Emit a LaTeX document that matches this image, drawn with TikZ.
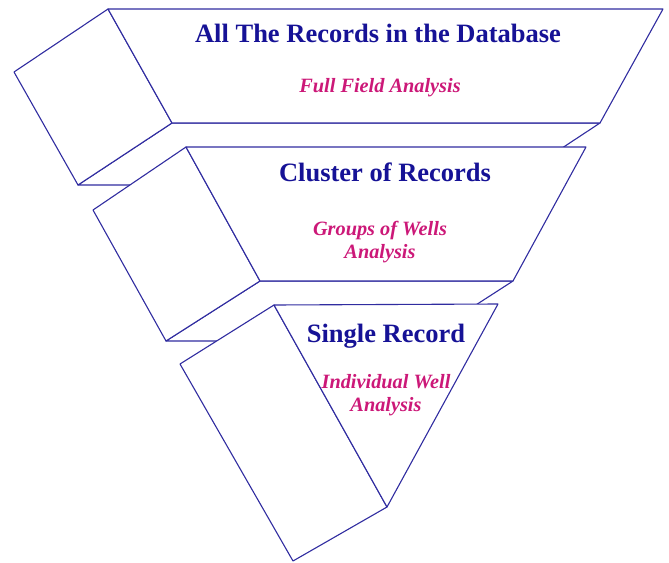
\documentclass[tikz,border=0pt]{standalone}
\usepackage{fontspec}
\setmainfont{Liberation Serif}
\usepackage{tikz}

\definecolor{lineblue}{RGB}{48,44,160}
\definecolor{titleblue}{RGB}{22,18,150}
\definecolor{subpink}{RGB}{204,24,120}

\begin{document}
\begin{tikzpicture}[x=1pt,y=-1pt]
        \tikzset{face/.style={draw=lineblue, fill=white, line width=1.1pt, line join=round},
                 title/.style={text=titleblue, anchor=base, inner sep=0pt, font=\fontsize{26.5}{30}\selectfont\bfseries},
                 sub/.style={text=subpink, anchor=base, inner sep=0pt, align=center, font=\fontsize{20.3}{23}\selectfont\bfseries\itshape}}
        \useasboundingbox (0,0) rectangle (669,562);

	%---NODES---
        % top slab
        \coordinate (a1) at (108,9);
        \coordinate (b1) at (663,9);
        \coordinate (c1) at (600,123);
        \coordinate (d1) at (172,123);
        \coordinate (e1) at (14,72);
        \coordinate (f1) at (78,185);
        \coordinate (k1) at (506,185);

        % middle slab
        \coordinate (a2) at (186,147);
        \coordinate (b2) at (586,147);
        \coordinate (c2) at (513,281);
        \coordinate (d2) at (260,281);
        \coordinate (e2) at (93,210);
        \coordinate (f2) at (166,341);
        \coordinate (k2) at (420,341);

        % bottom wedge
        \coordinate (a3) at (274,305);
        \coordinate (b3) at (498,304);
        \coordinate (c3) at (387,507);
        \coordinate (e3) at (180,364);
        \coordinate (f3) at (293,561);

	%---EDGES---
        \draw[face] (d1) -- (c1) -- (k1) -- (f1) -- cycle;
        \draw[face] (a1) -- (e1) -- (f1) -- (d1) -- cycle;
        \draw[face] (a1) -- (b1) -- (c1) -- (d1) -- cycle;

        \draw[face] (d2) -- (c2) -- (k2) -- (f2) -- cycle;
        \draw[face] (a2) -- (e2) -- (f2) -- (d2) -- cycle;
        \draw[face] (a2) -- (b2) -- (c2) -- (d2) -- cycle;

        \draw[face] (a3) -- (e3) -- (f3) -- (c3) -- cycle;
        \draw[face] (a3) -- (b3) -- (c3) -- cycle;

	%---LABELS---
        \node[title] (t1) at (378,42) {All The Records in the Database};
        \node[sub]   (s1) at (380,92) {Full Field Analysis};
        \node[title] (t2) at (385,181) {Cluster of Records};
        \node[sub]   (s2) at (380,258) {Groups of Wells\\Analysis};
        \node[title] (t3) at (386,342) {Single Record};
        \node[sub]   (s3) at (386,411) {Individual Well\\Analysis};

\end{tikzpicture}
\end{document}
